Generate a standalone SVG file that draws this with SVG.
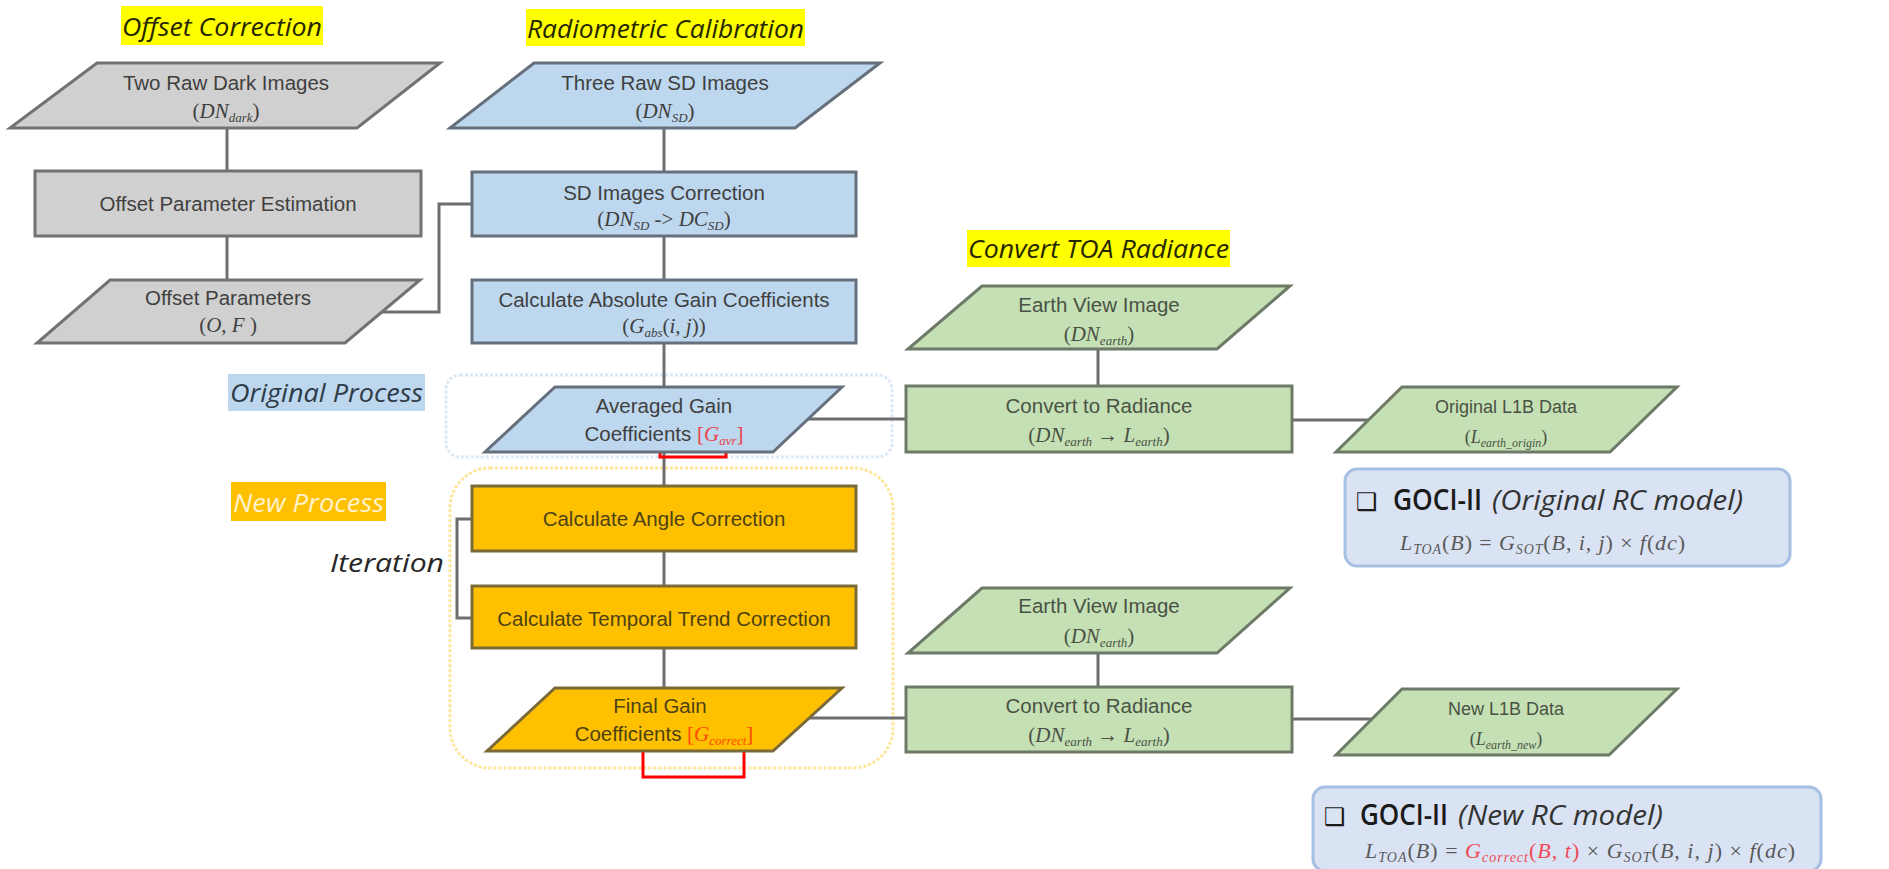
<svg xmlns="http://www.w3.org/2000/svg" width="1889" height="869" viewBox="0 0 1889 869">
<style>
.t{font-family:"Liberation Sans",Arial,sans-serif;font-size:20.5px;fill:#404040;text-anchor:middle}
.s{font-size:18px}
.m{font-family:"Liberation Serif","Times New Roman",serif;font-size:21px}
.i{font-style:italic}
.sub{font-size:13px;font-style:italic}
.ttl{font-family:"Open Sans","Liberation Sans",sans-serif;font-style:italic;font-size:26px;fill:#262600}
.gray{fill:#d0d0d0;stroke:#727272;stroke-width:3}
.blue{fill:#bdd7ee;stroke:#66707c;stroke-width:3}
.yel{fill:#ffc000;stroke:#7a6a3a;stroke-width:3}
.grn{fill:#c5e0b4;stroke:#6e7a68;stroke-width:3}
.yt{fill:#4d4214}
.gt{fill:#4a5245}
.red{fill:#e8424a}
.org{fill:#ff4a00}
.conn line,.conn polyline{stroke:#6e6e6e;stroke-width:3;fill:none}
.br{stroke:#ff0000;stroke-width:3;fill:none}
.box{fill:#dae3f3;stroke:#a6c0e4;stroke-width:3}
.hd{font-family:"Open Sans","Liberation Sans",sans-serif;font-size:28px;font-weight:600;fill:#1a1a1a}
.hdi{font-style:italic;font-weight:400;fill:#333333}
.f{font-family:"Liberation Serif","Times New Roman",serif;font-size:22px;fill:#5a5a5a;font-style:italic}
.fs{font-size:14px}
</style>

<!-- containers -->
<g id="original-process-area">
<rect x="446" y="375" width="446" height="82" rx="14" fill="none" stroke="#dce8f6" stroke-width="3" stroke-dasharray="3 2"/>
</g>
<g id="new-process-area">
<rect x="450" y="468" width="443" height="300" rx="40" fill="none" stroke="#ffe699" stroke-width="3" stroke-dasharray="3 2"/>
</g>

<!-- section titles -->
<g id="title-offset">
<rect x="121" y="6" width="202" height="39" fill="#ffff00"/>
<text class="ttl" x="122" y="36" textLength="200" lengthAdjust="spacingAndGlyphs">Offset Correction</text>
</g>
<g id="title-radiometric">
<rect x="526" y="9" width="279" height="37" fill="#ffff00"/>
<text class="ttl" x="527" y="38" textLength="277" lengthAdjust="spacingAndGlyphs">Radiometric Calibration</text>
</g>
<g id="title-toa">
<rect x="967" y="230" width="263" height="37" fill="#ffff00"/>
<text class="ttl" x="968" y="258" textLength="261" lengthAdjust="spacingAndGlyphs">Convert TOA Radiance</text>
</g>
<g id="label-original">
<rect x="228" y="374" width="197" height="37" fill="#bdd7ee"/>
<text class="ttl" x="230" y="402" textLength="193" lengthAdjust="spacingAndGlyphs" style="fill:#2f3b48">Original Process</text>
</g>
<g id="label-new">
<rect x="231" y="482" width="155" height="39" fill="#ffc000"/>
<text class="ttl" x="233" y="512" textLength="151" lengthAdjust="spacingAndGlyphs" style="fill:#fff2cc">New Process</text>
</g>
<g id="label-iteration">
<text class="ttl" x="330" y="572" textLength="114" lengthAdjust="spacingAndGlyphs" style="fill:#262626">Iteration</text>
</g>

<!-- connectors -->
<g id="connectors" class="conn">
<line x1="227" y1="128" x2="227" y2="171"/>
<line x1="227" y1="236" x2="227" y2="280"/>
<polyline points="382,312 439,312 439,204 472,204"/>
<line x1="664" y1="128" x2="664" y2="172"/>
<line x1="664" y1="236" x2="664" y2="280"/>
<line x1="664" y1="343" x2="664" y2="387"/>
<line x1="664" y1="452" x2="664" y2="486"/>
<line x1="664" y1="551" x2="664" y2="586"/>
<line x1="664" y1="648" x2="664" y2="688"/>
<polyline points="472,519 457,519 457,618 472,618"/>
<line x1="808" y1="419" x2="906" y2="419"/>
<line x1="809" y1="718" x2="906" y2="718"/>
<line x1="1098" y1="349" x2="1098" y2="386"/>
<line x1="1098" y1="653" x2="1098" y2="687"/>
<line x1="1292" y1="420" x2="1369" y2="420"/>
<line x1="1292" y1="719" x2="1372" y2="719"/>
</g>

<!-- red brackets -->
<g id="red-brackets">
<polyline class="br" points="660,452 660,457 726,457 726,452"/>
<polyline class="br" points="643,751 643,777 744,777 744,751"/>
</g>

<!-- offset correction nodes -->
<g id="two-raw-dark">
<polygon class="gray" points="97,63 440,63 357,128 10,128"/>
<text class="t" x="226" y="90">Two Raw Dark Images</text>
<text class="t m" x="226" y="118">(<tspan class="i">DN</tspan><tspan class="sub" dy="4">dark</tspan><tspan dy="-4">)</tspan></text>
</g>
<g id="offset-estimation">
<rect class="gray" x="35" y="171" width="386" height="65"/>
<text class="t" x="228" y="211">Offset Parameter Estimation</text>
</g>
<g id="offset-parameters">
<polygon class="gray" points="110,280 420,280 345,343 37,343"/>
<text class="t" x="228" y="305">Offset Parameters</text>
<text class="t m" x="228" y="332">(<tspan class="i">O</tspan>,  <tspan class="i">F</tspan> )</text>
</g>

<!-- radiometric calibration nodes -->
<g id="three-raw-sd">
<polygon class="blue" points="534,63 880,63 795,128 450,128"/>
<text class="t" x="665" y="90">Three Raw SD Images</text>
<text class="t m" x="665" y="118">(<tspan class="i">DN</tspan><tspan class="sub" dy="4">SD</tspan><tspan dy="-4">)</tspan></text>
</g>
<g id="sd-correction">
<rect class="blue" x="472" y="172" width="384" height="64"/>
<text class="t" x="664" y="200">SD Images Correction</text>
<text class="t m" x="664" y="226">(<tspan class="i">DN</tspan><tspan class="sub" dy="4">SD</tspan><tspan dy="-4"> -&gt; </tspan><tspan class="i">DC</tspan><tspan class="sub" dy="4">SD</tspan><tspan dy="-4">)</tspan></text>
</g>
<g id="abs-gain">
<rect class="blue" x="472" y="280" width="384" height="63"/>
<text class="t" x="664" y="307">Calculate Absolute Gain Coefficients</text>
<text class="t m" x="664" y="333">(<tspan class="i">G</tspan><tspan class="sub" dy="4">abs</tspan><tspan dy="-4">(<tspan class="i">i</tspan>, <tspan class="i">j</tspan>))</tspan></text>
</g>
<g id="averaged-gain">
<polygon class="blue" points="555,387 842,387 773,452 485,452"/>
<text class="t" x="664" y="413">Averaged Gain</text>
<text class="t" x="664" y="441">Coefficients <tspan class="m red">[<tspan class="i">G</tspan><tspan class="sub" dy="4">avr</tspan><tspan dy="-4">]</tspan></tspan></text>
</g>

<!-- new process nodes -->
<g id="angle-correction">
<rect class="yel" x="472" y="486" width="384" height="65"/>
<text class="t yt" x="664" y="526">Calculate Angle Correction</text>
</g>
<g id="temporal-correction">
<rect class="yel" x="472" y="586" width="384" height="62"/>
<text class="t yt" x="664" y="626">Calculate Temporal Trend Correction</text>
</g>
<g id="final-gain">
<polygon class="yel" points="555,688 842,688 773,751 487,751"/>
<text class="t yt" x="660" y="713">Final Gain</text>
<text class="t yt" x="664" y="741">Coefficients <tspan class="m org">[<tspan class="i">G</tspan><tspan class="sub" dy="4">correct</tspan><tspan dy="-4">]</tspan></tspan></text>
</g>

<!-- TOA conversion nodes -->
<g id="earth-view-1">
<polygon class="grn" points="982,286 1290,286 1217,349 908,349"/>
<text class="t gt" x="1099" y="312">Earth View Image</text>
<text class="t m gt" x="1099" y="341">(<tspan class="i">DN</tspan><tspan class="sub" dy="4">earth</tspan><tspan dy="-4">)</tspan></text>
</g>
<g id="convert-1">
<rect class="grn" x="906" y="386" width="386" height="66"/>
<text class="t gt" x="1099" y="413">Convert to Radiance</text>
<text class="t m gt" x="1099" y="442">(<tspan class="i">DN</tspan><tspan class="sub" dy="4">earth</tspan><tspan dy="-4">  →  </tspan><tspan class="i">L</tspan><tspan class="sub" dy="4">earth</tspan><tspan dy="-4">)</tspan></text>
</g>
<g id="original-l1b">
<polygon class="grn" points="1402,387 1677,387 1610,452 1336,452"/>
<text class="t s gt" x="1506" y="413">Original L1B Data</text>
<text class="t m gt" x="1506" y="443" style="font-size:18px">(<tspan class="i">L</tspan><tspan class="sub" dy="4" style="font-size:12px">earth_origin</tspan><tspan dy="-4">)</tspan></text>
</g>
<g id="earth-view-2">
<polygon class="grn" points="982,588 1290,588 1217,653 908,653"/>
<text class="t gt" x="1099" y="613">Earth View Image</text>
<text class="t m gt" x="1099" y="643">(<tspan class="i">DN</tspan><tspan class="sub" dy="4">earth</tspan><tspan dy="-4">)</tspan></text>
</g>
<g id="convert-2">
<rect class="grn" x="906" y="687" width="386" height="65"/>
<text class="t gt" x="1099" y="713">Convert to Radiance</text>
<text class="t m gt" x="1099" y="742">(<tspan class="i">DN</tspan><tspan class="sub" dy="4">earth</tspan><tspan dy="-4">  →  </tspan><tspan class="i">L</tspan><tspan class="sub" dy="4">earth</tspan><tspan dy="-4">)</tspan></text>
</g>
<g id="new-l1b">
<polygon class="grn" points="1402,689 1677,689 1609,755 1336,755"/>
<text class="t s gt" x="1506" y="715">New L1B Data</text>
<text class="t m gt" x="1506" y="745" style="font-size:18px">(<tspan class="i">L</tspan><tspan class="sub" dy="4" style="font-size:12px">earth_new</tspan><tspan dy="-4">)</tspan></text>
</g>

<!-- model boxes -->
<g id="goci-original">
<rect class="box" x="1345" y="469" width="445" height="97" rx="12"/>
<text x="1356" y="510" style="font-family:'DejaVu Sans',sans-serif;font-size:24px;fill:#1a1a1a">❑</text>
<text class="hd" x="1393" y="510" textLength="89" lengthAdjust="spacingAndGlyphs">GOCI-II</text>
<text class="hd hdi" x="1492" y="510" textLength="251" lengthAdjust="spacingAndGlyphs">(Original RC model)</text>
<text class="f" x="1400" y="550" textLength="285" lengthAdjust="spacing"><tspan>L</tspan><tspan class="fs" dy="4">TOA</tspan><tspan dy="-4" font-style="normal">(</tspan>B<tspan font-style="normal">) = </tspan>G<tspan class="fs" dy="4">SOT</tspan><tspan dy="-4" font-style="normal">(</tspan>B<tspan font-style="normal">, </tspan>i<tspan font-style="normal">, </tspan>j<tspan font-style="normal">) × </tspan>f<tspan font-style="normal">(</tspan>dc<tspan font-style="normal">)</tspan></text>
</g>
<g id="goci-new">
<rect class="box" x="1313" y="787" width="508" height="84" rx="12"/>
<text x="1324" y="825" style="font-family:'DejaVu Sans',sans-serif;font-size:24px;fill:#1a1a1a">❑</text>
<text class="hd" x="1360" y="825" textLength="88" lengthAdjust="spacingAndGlyphs">GOCI-II</text>
<text class="hd hdi" x="1458" y="825" textLength="205" lengthAdjust="spacingAndGlyphs">(New RC model)</text>
<text class="f" x="1365" y="858" textLength="430" lengthAdjust="spacing"><tspan>L</tspan><tspan class="fs" dy="4">TOA</tspan><tspan dy="-4" font-style="normal">(</tspan>B<tspan font-style="normal">) = </tspan><tspan fill="#ee4a55">G<tspan class="fs" dy="4">correct</tspan><tspan dy="-4" font-style="normal">(</tspan>B<tspan font-style="normal">, </tspan>t<tspan font-style="normal">)</tspan></tspan><tspan font-style="normal"> × </tspan>G<tspan class="fs" dy="4">SOT</tspan><tspan dy="-4" font-style="normal">(</tspan>B<tspan font-style="normal">, </tspan>i<tspan font-style="normal">, </tspan>j<tspan font-style="normal">) × </tspan>f<tspan font-style="normal">(</tspan>dc<tspan font-style="normal">)</tspan></text>
</g>
</svg>
